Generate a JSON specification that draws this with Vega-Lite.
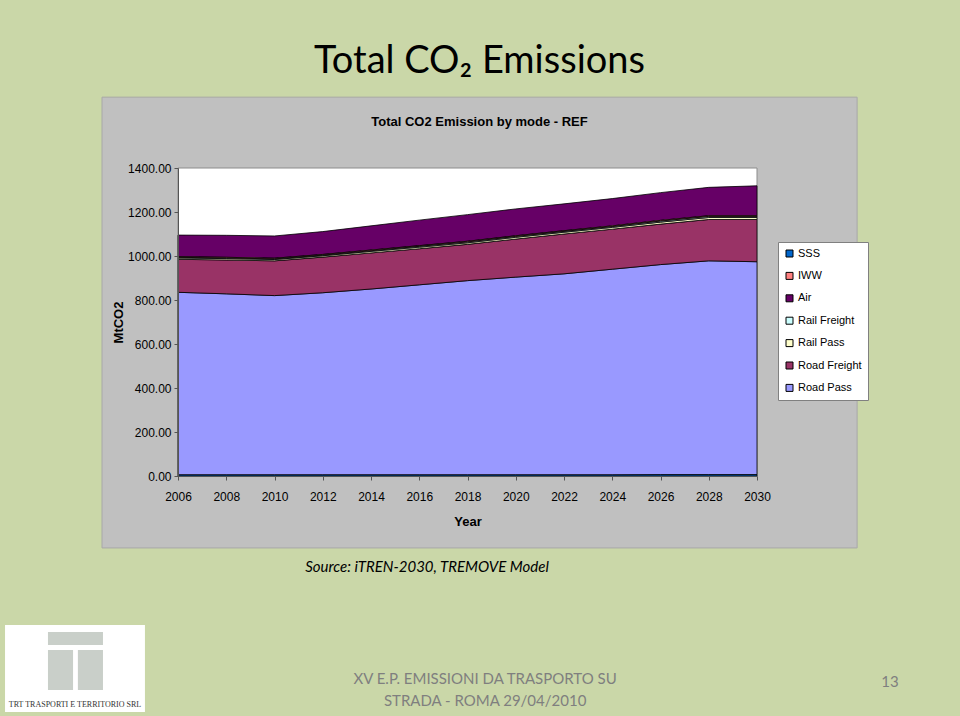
{
  "$schema": "https://vega.github.io/schema/vega-lite/v6.json",
  "width": 579,
  "height": 308,
  "autosize": {"type": "none"},
  "padding": {"left": 178, "top": 168, "right": 203, "bottom": 240},
  "background": "#CAD7A8",
  "title": {
    "text": "Total CO₂ Emissions",
    "subtitle": "Total CO2 Emission by mode - REF",
    "anchor": "middle",
    "frame": "group",
    "dx": 12,
    "offset": -32,
    "font": "Lato",
    "fontSize": 38,
    "fontWeight": "normal",
    "color": "#000",
    "subtitleFont": "'Liberation Sans', sans-serif",
    "subtitleFontSize": 13,
    "subtitleFontWeight": "bold",
    "subtitleColor": "#000",
    "subtitlePadding": 35
  },
  "config": {
    "view": {"stroke": null}
  },
  "layer": [
    {
      "data": {"values": [{}]},
      "mark": {"type": "rect", "fill": "#C0C0C0", "stroke": "#A8A8A8", "strokeWidth": 1},
      "encoding": {
        "x": {"datum": 2002.85, "type": "quantitative"},
        "x2": {"datum": 2034.15},
        "y": {"datum": 1722, "type": "quantitative"},
        "y2": {"datum": -327}
      }
    },
    {
      "data": {"values": [{}]},
      "mark": {"type": "rect", "fill": "#FFFFFF", "stroke": "#8C8C8C", "strokeWidth": 1},
      "encoding": {
        "x": {"datum": 2006, "type": "quantitative"},
        "x2": {"datum": 2030},
        "y": {"datum": 1400, "type": "quantitative"},
        "y2": {"datum": 0}
      }
    },
    {
      "data": {
        "values": [
          {"year": 2006, "Road Pass": 830, "Road Freight": 150, "Rail Pass": 6, "Rail Freight": 3, "Air": 98, "IWW": 3, "SSS": 5},
          {"year": 2008, "Road Pass": 823, "Road Freight": 154, "Rail Pass": 6, "Rail Freight": 3, "Air": 100, "IWW": 3, "SSS": 5},
          {"year": 2010, "Road Pass": 815, "Road Freight": 158, "Rail Pass": 6, "Rail Freight": 3, "Air": 101, "IWW": 3, "SSS": 5},
          {"year": 2012, "Road Pass": 828, "Road Freight": 162, "Rail Pass": 6, "Rail Freight": 3, "Air": 104, "IWW": 3, "SSS": 5},
          {"year": 2014, "Road Pass": 845, "Road Freight": 164, "Rail Pass": 7, "Rail Freight": 3, "Air": 110, "IWW": 3, "SSS": 5},
          {"year": 2016, "Road Pass": 864, "Road Freight": 164, "Rail Pass": 7, "Rail Freight": 4, "Air": 116, "IWW": 3, "SSS": 5},
          {"year": 2018, "Road Pass": 883, "Road Freight": 165, "Rail Pass": 7, "Rail Freight": 4, "Air": 121, "IWW": 3, "SSS": 5},
          {"year": 2020, "Road Pass": 899, "Road Freight": 173, "Rail Pass": 8, "Rail Freight": 4, "Air": 122, "IWW": 3, "SSS": 5},
          {"year": 2022, "Road Pass": 914, "Road Freight": 181, "Rail Pass": 8, "Rail Freight": 4, "Air": 122, "IWW": 3, "SSS": 5},
          {"year": 2024, "Road Pass": 935, "Road Freight": 182, "Rail Pass": 8, "Rail Freight": 4, "Air": 124, "IWW": 3, "SSS": 5},
          {"year": 2026, "Road Pass": 955, "Road Freight": 184, "Rail Pass": 9, "Rail Freight": 5, "Air": 126, "IWW": 3, "SSS": 6},
          {"year": 2028, "Road Pass": 972, "Road Freight": 188, "Rail Pass": 9, "Rail Freight": 5, "Air": 129, "IWW": 3, "SSS": 6},
          {"year": 2030, "Road Pass": 968, "Road Freight": 192, "Rail Pass": 9, "Rail Freight": 5, "Air": 136, "IWW": 3, "SSS": 6}
        ]
      },
      "transform": [
        {"fold": ["Road Pass", "Road Freight", "Rail Pass", "Rail Freight", "Air", "IWW", "SSS"], "as": ["mode", "value"]}
      ],
      "mark": {"type": "area", "stroke": "#000000", "strokeWidth": 0.8, "opacity": 1},
      "encoding": {
        "x": {
          "field": "year",
          "type": "quantitative",
          "scale": {"domain": [2006, 2030], "nice": false, "zero": false},
          "axis": {
            "zindex": 1,
            "title": "Year",
            "values": [2006, 2008, 2010, 2012, 2014, 2016, 2018, 2020, 2022, 2024, 2026, 2028, 2030],
            "format": "d",
            "grid": false,
            "labelFont": "'Liberation Sans', sans-serif",
            "labelFontSize": 12,
            "labelColor": "#000",
            "labelPadding": 11,
            "labelOverlap": false,
            "labelFlush": false,
            "tickSize": 4,
            "tickColor": "#555",
            "domainColor": "#555",
            "titleFont": "'Liberation Sans', sans-serif",
            "titleFontSize": 13,
            "titleFontWeight": "bold",
            "titleColor": "#000",
            "titlePadding": 13
          }
        },
        "y": {
          "field": "value",
          "type": "quantitative",
          "stack": "zero",
          "scale": {"domain": [0, 1400], "nice": false},
          "axis": {
            "zindex": 1,
            "title": "MtCO2",
            "values": [0, 200, 400, 600, 800, 1000, 1200, 1400],
            "format": ".2f",
            "grid": false,
            "labelFont": "'Liberation Sans', sans-serif",
            "labelFontSize": 12,
            "labelColor": "#000",
            "labelPadding": 3,
            "tickSize": 4,
            "tickColor": "#555",
            "domainColor": "#555",
            "titleFont": "'Liberation Sans', sans-serif",
            "titleFontSize": 13,
            "titleFontWeight": "bold",
            "titleColor": "#000",
            "titlePadding": 2
          }
        },
        "color": {
          "field": "mode",
          "type": "nominal",
          "sort": ["SSS", "IWW", "Air", "Rail Freight", "Rail Pass", "Road Freight", "Road Pass"],
          "scale": {
            "domain": ["SSS", "IWW", "Air", "Rail Freight", "Rail Pass", "Road Freight", "Road Pass"],
            "range": ["#0066CC", "#FF8080", "#660066", "#CCFFFF", "#FFFFCC", "#993366", "#9999FF"]
          },
          "legend": {
            "title": null,
            "orient": "none",
            "legendX": 600,
            "legendY": 74,
            "symbolType": "square",
            "symbolSize": 49,
            "symbolStrokeColor": "#000",
            "symbolStrokeWidth": 1,
            "symbolOpacity": 1,
            "labelFont": "'Liberation Sans', sans-serif",
            "labelFontSize": 11,
            "labelColor": "#000",
            "labelOffset": 3,
            "fillColor": "#FFFFFF",
            "strokeColor": "#808080",
            "padding": 6,
            "rowPadding": 10.4
          }
        }
      }
    },
    {
      "data": {"values": [{}]},
      "mark": {"type": "rect", "fill": "#FFFFFF"},
      "encoding": {
        "x": {"datum": 1998.83, "type": "quantitative"},
        "x2": {"datum": 2004.63},
        "y": {"datum": -677, "type": "quantitative"},
        "y2": {"datum": -1073}
      }
    },
    {
      "data": {"values": [{}]},
      "mark": {"type": "rect", "fill": "#C9CFC9"},
      "encoding": {
        "x": {"datum": 2000.61, "type": "quantitative"},
        "x2": {"datum": 2002.89},
        "y": {"datum": -709, "type": "quantitative"},
        "y2": {"datum": -768}
      }
    },
    {
      "data": {"values": [{}]},
      "mark": {"type": "rect", "fill": "#C9CFC9"},
      "encoding": {
        "x": {"datum": 2000.61, "type": "quantitative"},
        "x2": {"datum": 2001.65},
        "y": {"datum": -791, "type": "quantitative"},
        "y2": {"datum": -973}
      }
    },
    {
      "data": {"values": [{}]},
      "mark": {"type": "rect", "fill": "#C9CFC9"},
      "encoding": {
        "x": {"datum": 2001.85, "type": "quantitative"},
        "x2": {"datum": 2002.89},
        "y": {"datum": -791, "type": "quantitative"},
        "y2": {"datum": -973}
      }
    },
    {
      "data": {"values": [{}]},
      "mark": {"type": "text", "text": "TRT TRASPORTI E TERRITORIO SRL", "font": "Liberation Serif", "fontSize": 8, "color": "#333", "align": "center", "baseline": "middle"},
      "encoding": {
        "x": {"datum": 2001.73, "type": "quantitative"},
        "y": {"datum": -1041, "type": "quantitative"}
      }
    },
    {
      "data": {"values": [{}]},
      "mark": {"type": "text", "text": "Source: iTREN-2030, TREMOVE Model", "font": "Lato", "fontStyle": "italic", "fontSize": 15, "color": "#000", "align": "center", "baseline": "middle"},
      "encoding": {
        "x": {"datum": 2016.32, "type": "quantitative"},
        "y": {"datum": -414, "type": "quantitative"}
      }
    },
    {
      "data": {"values": [{}]},
      "mark": {"type": "text", "text": ["XV E.P. EMISSIONI DA TRASPORTO SU", "STRADA - ROMA 29/04/2010"], "font": "Lato", "fontSize": 15, "lineHeight": 22, "color": "#7F7F7F", "align": "center", "baseline": "middle"},
      "encoding": {
        "x": {"datum": 2018.73, "type": "quantitative"},
        "y": {"datum": -923, "type": "quantitative"}
      }
    },
    {
      "data": {"values": [{}]},
      "mark": {"type": "text", "text": "13", "font": "Lato", "fontSize": 15, "color": "#7F7F7F", "align": "center", "baseline": "middle"},
      "encoding": {
        "x": {"datum": 2035.51, "type": "quantitative"},
        "y": {"datum": -936, "type": "quantitative"}
      }
    }
  ]
}
